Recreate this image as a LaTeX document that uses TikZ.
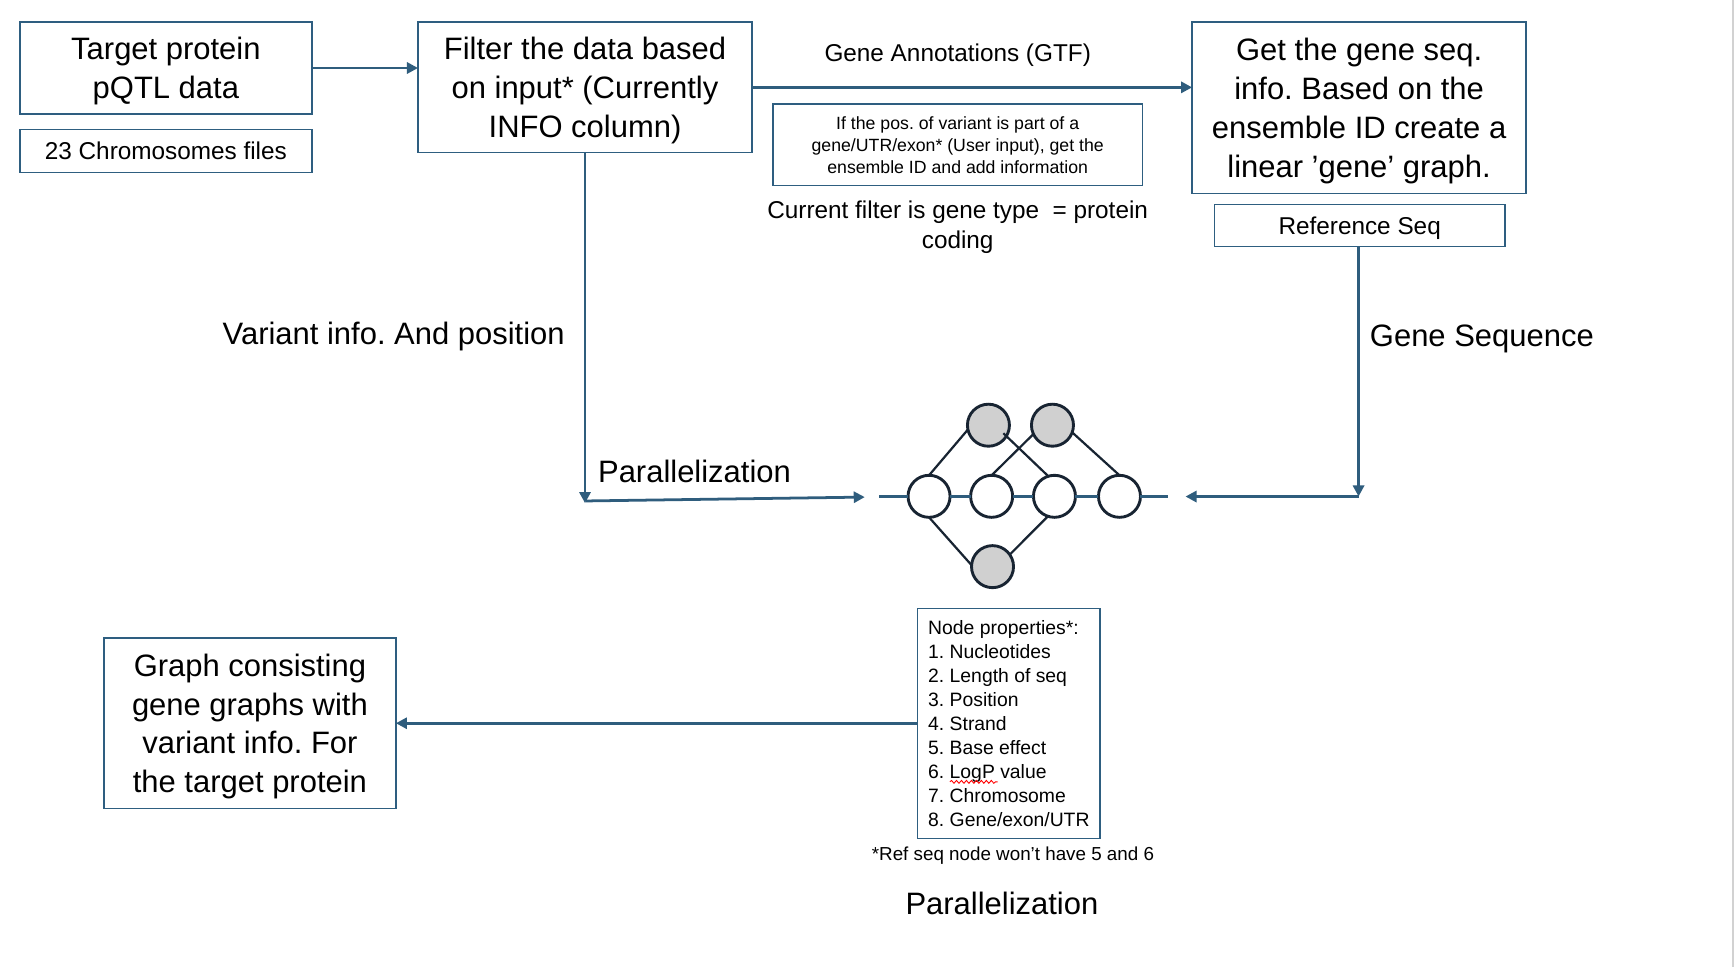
\documentclass[tikz,border=0pt]{standalone}
\usepackage{fontspec}
\setmainfont{Liberation Sans}
\usetikzlibrary{arrows.meta,calc,decorations.pathmorphing}
\definecolor{boxblue}{RGB}{46,94,128}
\definecolor{arrblue}{RGB}{47,93,125}
\definecolor{ringcol}{RGB}{24,36,50}
\definecolor{grayfill}{RGB}{208,208,208}
\definecolor{edgegray}{RGB}{210,210,210}
\tikzset{
  boxn/.style={draw=boxblue, line width=1.2pt, inner sep=0pt, outer sep=0pt, align=center, text=black, text depth=0pt},
  bigtxt/.style={font=\fontsize{28}{35}\selectfont},
  medtxt/.style={font=\fontsize{22}{27}\selectfont},
  smalltxt/.style={font=\fontsize{16}{20}\selectfont},
  lbl/.style={inner sep=0pt, align=center, text=black, text depth=0pt},
  arr/.style={draw=arrblue, line width=2.5pt, -{Triangle[length=10pt,width=10pt]}},
  wc/.style={circle, draw=ringcol, line width=2.6pt, fill=white, minimum size=38pt, inner sep=0pt, outer sep=0pt},
  gc/.style={circle, draw=ringcol, line width=2.6pt, fill=grayfill, minimum size=38pt, inner sep=0pt, outer sep=0pt},
  gedge/.style={draw=ringcol, line width=2pt},
  bedge/.style={draw=arrblue, line width=2.5pt},
}
\begin{document}
\frenchspacing
\begin{tikzpicture}[x=1pt,y=-1pt]
\useasboundingbox (0,0) rectangle (1568,874);
\fill[white] (0,0) rectangle (1568,874);
\fill[edgegray] (1566.3,0) rectangle (1568,874);

% boxes
\node[boxn,bigtxt,minimum width=264pt,minimum height=83pt] (target) at (150,61.5) {Target protein\\pQTL data};
\node[boxn,medtxt,minimum width=264pt,minimum height=39pt] (chrom) at (150,136.5) {23 Chromosomes files};
\node[boxn,bigtxt,minimum width=302pt,minimum height=118pt] (filter) at (529,79) {Filter the data based\\on input* (Currently\\INFO column)};
\node[boxn,bigtxt,minimum width=302pt,minimum height=155pt] (getbox) at (1229,97.5) {Get the gene seq.\\info. Based on the\\ensemble ID create a\\linear ’gene’ graph.};
\node[boxn,medtxt,minimum width=263pt,minimum height=38pt] (ref) at (1229.5,204) {Reference Seq};
\node[boxn,smalltxt,minimum width=334pt,minimum height=74pt] (small) at (866,131) {If the pos. of variant is part of a\\gene/UTR/exon* (User input), get the\\ensemble ID and add information};
\node[boxn,bigtxt,minimum width=264pt,minimum height=154pt] (gbox) at (226,654) {Graph consisting\\gene graphs with\\variant info. For\\the target protein};
\node[boxn,font=\fontsize{17.5}{21.75}\selectfont,minimum width=165pt,minimum height=208pt,align=left] (props) at (912.3,654) {Node properties*:\\1. Nucleotides\\2. Length of seq\\3. Position\\4. Strand\\5. Base effect\\6. LogP value\\7. Chromosome\\8. Gene/exon/UTR};
\draw[red, line width=0.8pt, decorate, decoration={snake, amplitude=1.3pt, segment length=4.5pt}] (859,707) -- (902,707);

% labels
\node[lbl,medtxt] (gtf) at (866,48) {Gene Annotations (GTF)};
\node[lbl,medtxt] (curf) at (866,203.5) {Current filter is gene type \ = protein\\coding};
\node[lbl,bigtxt] (varinfo) at (356,301) {Variant info. And position};
\node[lbl,bigtxt] (geneseq) at (1340,304) {Gene Sequence};
\node[lbl,bigtxt] (par1) at (628,426) {Parallelization};
\node[lbl,font=\fontsize{17}{20}\selectfont] (refnote) at (916,772) {*Ref seq node won’t have 5 and 6};
\node[lbl,bigtxt] (par2) at (906,817) {Parallelization};

% graph circles
\node[wc] (c1) at (840.1,448.8) {};
\node[wc] (c2) at (896.7,448.8) {};
\node[wc] (c3) at (953.5,448.8) {};
\node[wc] (c4) at (1012.3,448.8) {};
\node[gc] (g1) at (893.8,384.5) {};
\node[gc] (g2) at (951.7,384.5) {};
\node[gc] (g3) at (897.5,512.4) {};
\coordinate (gin) at (795,448.8);
\coordinate (gout) at (1056,448.8);
\draw[bedge] (gin) -- (c1.west);
\draw[bedge] (c1.east) -- (c2.west);
\draw[bedge] (c2.east) -- (c3.west);
\draw[bedge] (c3.east) -- (c4.west);
\draw[bedge] (c4.east) -- (gout);
\draw[gedge] (c1.north) -- (g1.192);
\draw[gedge] ($(g1.center)+(13.5,7.3)$) -- (c3.107);
\draw[gedge] (g2.205) -- (c2.north);
\draw[gedge] (g2.340) -- (c4.north);
\draw[gedge] (c1.south) -- (g3.176);
\draw[gedge] (g3.35) -- (c3.252);

% connectors
\draw[arr] (target.east) -- (target.east -| filter.west);
\draw[arr] (filter.east) -- (filter.east -| getbox.west);
\coordinate (vcorner) at (529,455);
\coordinate (hstart) at (530,453);
\coordinate (hend) at (782,449.5);
\draw[arr] (filter.south) -- (vcorner);
\draw[arr] (hstart) -- (hend);
\coordinate (rcorner) at (1228.5,449);
\coordinate (rend) at (1072,449);
\draw[arr] (ref.south -| rcorner) -- (rcorner);
\draw[arr] (rcorner) -- (rend);
\draw[arr] (props.west) -- (props.west -| gbox.east);
\end{tikzpicture}
\end{document}
